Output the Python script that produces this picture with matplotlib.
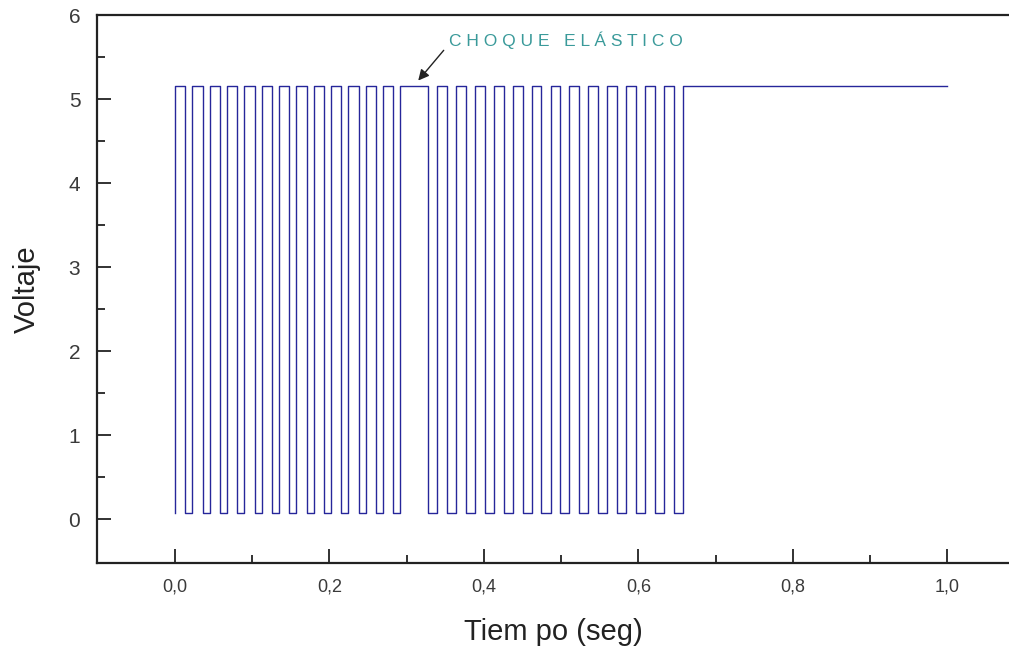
import matplotlib.pyplot as plt
import numpy as np

#
# Edge times (seconds)
#

t_fall_1 = [0.0136, 0.0360, 0.0584, 0.0808, 0.1032, 0.1256, 0.1481,
            0.1705, 0.1929, 0.2153, 0.2377, 0.2601, 0.2825]
t_rise_1 = [0.0227, 0.0451, 0.0675, 0.0899, 0.1123, 0.1347, 0.1571,
            0.1795, 0.2019, 0.2244, 0.2468, 0.2692, 0.2916]

t_fall_2 = [0.3277, 0.3522, 0.3767, 0.4012, 0.4256, 0.4501, 0.4746,
            0.4991, 0.5236, 0.5481, 0.5725, 0.5970, 0.6215, 0.6460]
t_rise_2 = [0.3394, 0.3639, 0.3883, 0.4128, 0.4373, 0.4618, 0.4863,
            0.5108, 0.5352, 0.5597, 0.5842, 0.6087, 0.6332, 0.6577]

t_start = 0.0
t_end = 1.0
v_high = 5.15
v_low = 0.08

xticks = [0.0, 0.2, 0.4, 0.6, 0.8, 1.0]
xtick_labels = ["0,0", "0,2", "0,4", "0,6", "0,8", "1,0"]
yticks = [0, 1, 2, 3, 4, 5, 6]

#
# Build the square wave: start low, jump high at t=0, then
# alternate falling / rising edges
#

falls = t_fall_1 + t_fall_2
rises = t_rise_1 + t_rise_2

t = [t_start, t_start]
v = [v_low, v_high]
for f, r in zip(falls, rises):
    t += [f, f, r, r]
    v += [v_high, v_low, v_low, v_high]
t.append(t_end)
v.append(v_high)

#
# Figure
#

plt.rcParams['font.family'] = ['Liberation Sans', 'DejaVu Sans']

fig = plt.figure(figsize=(10.09, 6.47), dpi=100)
ax = fig.add_axes([0.0961, 0.1298, 0.9039, 0.847])

ax.plot(t, v, color='#26269a', lw=1.0)

ax.set_xticks(xticks)
ax.set_xticklabels(xtick_labels)
ax.set_xticks(np.arange(0.1, 1.0, 0.2), minor=True)
ax.set_yticks(yticks)
ax.set_yticks(np.arange(0.5, 6.0, 1.0), minor=True)

# limits after the ticks, otherwise set_xticks widens them
ax.set_xlim(-0.101, 1.08)
ax.set_ylim(-0.52, 6.0)

ax.tick_params(which='both', direction='in', color='#222222', width=1.3)
ax.tick_params(which='major', length=10)
ax.tick_params(which='minor', length=6)
ax.tick_params(axis='x', labelsize=13, labelcolor='#3a3a3a', pad=11)
ax.tick_params(axis='y', labelsize=15, labelcolor='#3a3a3a', pad=12)

for s in ['left', 'top', 'bottom']:
    ax.spines[s].set_linewidth(1.6)
    ax.spines[s].set_color('#222222')
ax.spines['right'].set_visible(False)

ax.set_xlabel("Tiem po (seg)", fontsize=21, color='#222222', labelpad=16)
ax.set_ylabel("Voltaje", fontsize=21, color='#222222', labelpad=20)

#
# Annotation for the collision
#

ax.text(0.355, 5.70, "C H O Q U E   E L Á S T I C O", fontsize=12.5,
        color='#3a9a9a', va='center', ha='left')
ax.annotate("", xy=(0.315, 5.22), xytext=(0.348, 5.58),
            arrowprops=dict(arrowstyle='-|>', color='#222222', lw=1.0,
                            shrinkA=0, shrinkB=0, mutation_scale=16))

fig.savefig("out.png", dpi=100)
